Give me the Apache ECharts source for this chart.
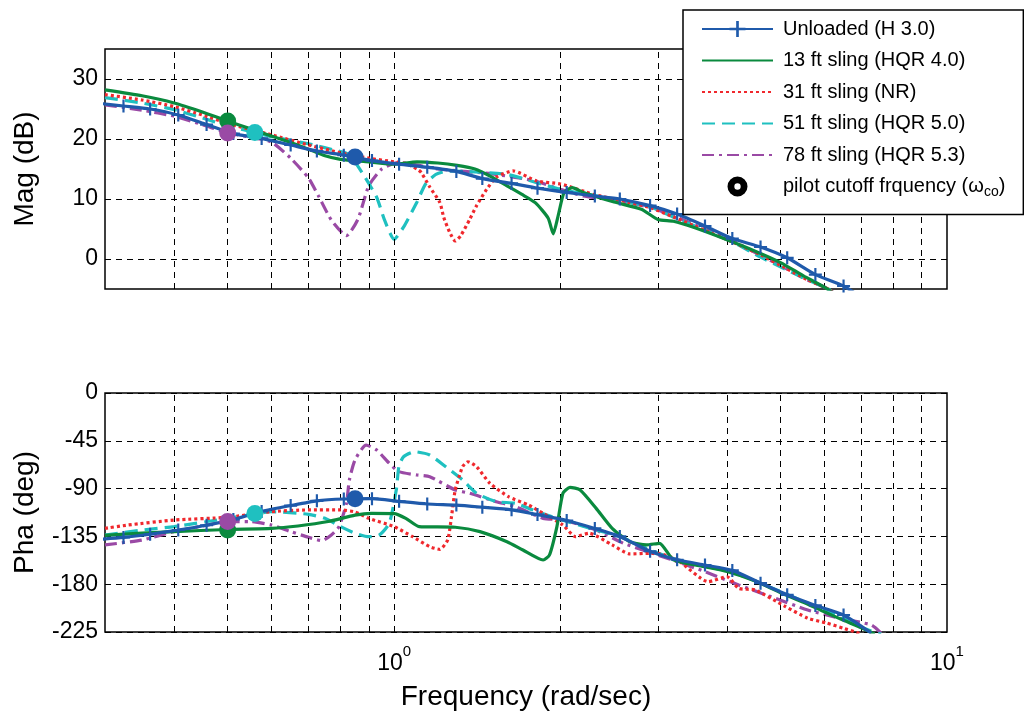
<!DOCTYPE html>
<html>
<head>
<meta charset="utf-8">
<script src="https://cdn.jsdelivr.net/npm/echarts@6/dist/echarts.min.js"></script>
<style>
html,body{margin:0;padding:0;background:#fff;}
#chart{width:1024px;height:718px;}
</style>
</head>
<body>
<div id="chart"></div>
<script>
// ---------- data ----------
const names = ['Unloaded (H 3.0)', '13 ft sling (HQR 4.0)', '31 ft sling (NR)', '51 ft sling (HQR 5.0)', '78 ft sling (HQR 5.3)'];
const cutName = 'pilot cutoff frquency (\u03c9co)';

const xGrid = [0.4, 0.5, 0.6, 0.7, 0.8, 0.9, 1, 2, 3, 4, 5, 6, 7, 8, 9];
const magGridY = [0, 10, 20, 30];

// Unloaded (H 3.0)
const blueF   = [0.289, 0.324, 0.362, 0.407, 0.458, 0.512, 0.576, 0.650, 0.725, 0.811, 0.912, 1.021, 1.148, 1.296, 1.444, 1.631, 1.817, 2.052, 2.307, 2.560, 2.904, 3.25, 3.65, 4.09, 4.60, 5.14, 5.78, 6.50, 7.29];
const blueMag = [26.0, 25.5, 25.0, 24.0, 22.4, 20.9, 20.1, 19.0, 18.0, 17.3, 16.4, 15.8, 15.3, 14.6, 13.4, 12.6, 11.8, 11.1, 10.5, 10.0, 8.9, 7.5, 5.5, 3.4, 2.0, 0.2, -2.6, -4.5, -7.5];
const bluePha = [-138, -136, -133, -129, -124.5, -119, -111.5, -106, -101.5, -99.8, -99.5, -102, -104.5, -105.5, -107.5, -110, -114.5, -120, -127.5, -135, -149, -157, -162, -167, -179, -190, -200, -209, -226];

// 13 ft sling (HQR 4.0)
const greenMagF = [0.3, 0.35, 0.4, 0.45, 0.5, 0.55, 0.6, 0.65, 0.7, 0.75, 0.8, 0.9, 1.0, 1.1, 1.2, 1.3, 1.4, 1.5, 1.6, 1.7, 1.8, 1.9, 1.94, 1.98, 2.03, 2.1, 2.2, 2.5, 2.8, 3.0, 3.2, 3.5, 4.0, 4.5, 5.0, 5.5, 6.0, 6.3];
const greenMag  = [28.2, 27.2, 26.0, 24.5, 23.0, 21.7, 20.5, 19.4, 18.3, 17.2, 16.6, 16.2, 15.8, 16.2, 16.0, 15.6, 15.0, 13.7, 12.2, 10.8, 9.4, 6.8, 4.2, 7.2, 11.1, 11.9, 11.1, 9.5, 8.3, 6.6, 6.3, 5.2, 3.2, 1.3, -0.6, -2.8, -4.7, -6.0];
const greenPhaF = [0.3, 0.35, 0.4, 0.5, 0.6, 0.67, 0.76, 0.85, 0.91, 1.0, 1.05, 1.11, 1.29, 1.43, 1.6, 1.71, 1.86, 1.91, 1.97, 2.02, 2.08, 2.17, 2.32, 2.48, 2.67, 2.86, 3.02, 3.2, 3.6, 4.0, 4.5, 5.0, 5.5, 6.0, 6.5, 7.0, 7.4];
const greenPha  = [-134, -132, -130.5, -128.5, -127.5, -125.2, -121, -115, -113.3, -113.5, -118, -125.8, -126.4, -130.5, -140, -147.8, -157.2, -152.5, -125.8, -94.4, -88.8, -91.3, -108.6, -127.4, -140, -143, -141.5, -157, -163, -168, -177, -188, -197, -206, -214, -221, -227];

// 31 ft sling (NR)
const redMagF = [0.3, 0.35, 0.4, 0.45, 0.5, 0.6, 0.7, 0.8, 0.9, 1.0, 1.05, 1.1, 1.12, 1.16, 1.21, 1.23, 1.26, 1.29, 1.32, 1.37, 1.41, 1.47, 1.53, 1.64, 1.81, 2.0, 2.29, 2.58, 2.9, 3.2, 3.6, 4.1, 4.6, 5.1, 5.6, 6.1, 6.4];
const redMag  = [27.4, 26.5, 25.4, 24.0, 22.6, 20.7, 19.0, 17.7, 16.8, 16.2, 15.9, 15.0, 14.4, 12.0, 9.4, 6.9, 4.5, 3.0, 3.9, 6.6, 8.9, 11.6, 13.6, 14.7, 13.0, 12.5, 10.8, 9.7, 8.6, 7.0, 5.0, 2.8, 0.7, -1.5, -3.5, -5.0, -6.5];
const redPhaF = [0.3, 0.33, 0.4, 0.5, 0.6, 0.7, 0.8, 0.85, 0.9, 1.0, 1.08, 1.16, 1.21, 1.25, 1.27, 1.29, 1.33, 1.36, 1.41, 1.49, 1.61, 1.75, 1.86, 2.02, 2.13, 2.25, 2.48, 2.67, 2.9, 3.0, 3.25, 3.7, 4.0, 4.2, 4.5, 5.1, 5.6, 6.05, 6.5, 6.8, 7.0];
const redPha  = [-127.4, -124.3, -119.6, -117, -111.7, -110.1, -110.1, -112, -118, -125.8, -135.3, -144.7, -147.2, -138.4, -116.4, -91.3, -69.4, -64.7, -69.4, -85, -97.6, -105.4, -113.3, -124.3, -135.3, -132, -143, -151.5, -150.9, -151, -157, -177.6, -173, -183.9, -185.5, -201, -212, -216.5, -221.5, -224.7, -227];

// 51 ft sling (HQR 5.0)
const cyanMagF = [0.3, 0.35, 0.4, 0.45, 0.5, 0.56, 0.6, 0.7, 0.8, 0.83, 0.875, 0.93, 0.96, 1.0, 1.04, 1.1, 1.14, 1.19, 1.26, 1.4, 1.6, 1.8, 2.0, 2.3, 2.6, 2.9, 3.2, 3.6, 4.1, 4.6, 5.1, 5.6, 6.1, 6.4];
const cyanMag  = [26.9, 26.0, 24.9, 23.5, 22.2, 21.1, 20.4, 19.2, 17.9, 17.4, 14.4, 10.3, 6.6, 3.3, 5.3, 9.5, 12.5, 14.1, 14.7, 14.5, 14.1, 12.8, 11.6, 10.6, 9.6, 8.7, 7.0, 5.0, 2.8, 0.3, -1.7, -3.5, -5.0, -6.5];
const cyanPhaF = [0.3, 0.35, 0.4, 0.5, 0.56, 0.6, 0.7, 0.75, 0.8, 0.85, 0.9, 0.94, 0.98, 1.01, 1.02, 1.04, 1.09, 1.16, 1.24, 1.33, 1.41, 1.53, 1.66, 1.78, 1.97, 2.32, 2.56, 2.9, 3.25, 3.65, 4.1, 4.6, 5.1, 5.6, 6.1, 6.6, 7.1, 7.6];
const cyanPha  = [-133.7, -129, -125.8, -118, -113.9, -111.7, -114.2, -118, -125.8, -132, -135.3, -133.7, -122.7, -90, -69.4, -60, -55.3, -58.4, -69.4, -81.9, -94.4, -102.3, -103.8, -110, -118, -129, -135, -147.8, -157, -163, -169, -179, -189, -198, -206, -214, -222, -227];

// 78 ft sling (HQR 5.3)
const purpleMagF = [0.3, 0.35, 0.4, 0.45, 0.5, 0.55, 0.6, 0.65, 0.7, 0.73, 0.77, 0.82, 0.86, 0.9, 0.95, 1.02, 1.2, 1.5, 1.8, 2.0, 2.2, 2.5, 2.9, 3.2, 3.6, 4.1, 4.6, 5.1, 5.6, 6.1, 6.4];
const purpleMag  = [25.7, 24.8, 23.8, 22.4, 21.0, 20.3, 19.5, 16.8, 13.5, 10.5, 6.5, 3.9, 6.6, 12.2, 15.0, 16.1, 15.0, 14.2, 13.0, 11.6, 10.5, 9.8, 8.6, 7.2, 5.2, 3.0, 0.6, -1.5, -3.5, -5.0, -6.5];
const purplePhaF = [0.3, 0.35, 0.4, 0.45, 0.5, 0.55, 0.6, 0.65, 0.7, 0.74, 0.77, 0.795, 0.82, 0.83, 0.85, 0.89, 0.93, 0.98, 1.02, 1.1, 1.16, 1.29, 1.37, 1.53, 1.66, 1.86, 2.02, 2.32, 2.6, 2.9, 3.25, 3.65, 4.2, 4.8, 5.6, 6.4, 7.3, 7.6];
const purplePha  = [-143, -138.4, -130.5, -125.2, -121, -121, -124.3, -130.5, -135.8, -139, -133.7, -125.8, -103.8, -81.9, -63, -49, -53.7, -66.2, -74, -77.2, -78.8, -91.3, -94.4, -102.3, -107, -118, -119.6, -129, -141.5, -150, -158.8, -168.2, -180.7, -191.7, -204.3, -212, -218.4, -226];

// pilot cutoff frequencies (Unloaded, 13 ft, 51 ft, 78 ft)
const cutSeriesIdx = [0, 1, 3, 4];
const cutF   = [0.85, 0.5, 0.56, 0.5];
const cutMag = [17.0, 23.0, 21.1, 21.0];
const cutPha = [-99.5, -129, -113.5, -121];

// ---------- style ----------
const FONT = '"Liberation Sans", Arial, Helvetica, sans-serif';
const colors = ['#1f5aab', '#0a8a3e', '#f0282d', '#1fc0c0', '#9a4aa5'];
const dashes = ['solid', 'solid', [3, 3], [13, 7], [12, 5, 3, 5]];
const PLUS = 'path://M5,0H7V5H12V7H7V12H5V7H0V5H5Z';
const RING = 'path://M11,0A11,11,0,1,1,10.99,0ZM11,7.5A3.5,3.5,0,1,0,11.01,7.5Z';

function zip(f, v) { return f.map((x, i) => [x, v[i]]); }

const magData = [zip(blueF, blueMag), zip(greenMagF, greenMag), zip(redMagF, redMag), zip(cyanMagF, cyanMag), zip(purpleMagF, purpleMag)];
const phaData = [zip(blueF, bluePha), zip(greenPhaF, greenPha), zip(redPhaF, redPha), zip(cyanPhaF, cyanPha), zip(purplePhaF, purplePha)];

const gridLineStyle = { color: '#000', type: [6, 5], width: 1 };

function gridSeries(gi, withY) {
  const d = xGrid.map(v => ({ xAxis: v }));
  if (withY) magGridY.forEach(v => d.push({ yAxis: v }));
  return {
    type: 'line', xAxisIndex: gi, yAxisIndex: gi, data: [], z: 1, silent: true,
    markLine: { silent: true, symbol: ['none', 'none'], label: { show: false }, lineStyle: gridLineStyle, animation: false, data: d }
  };
}

const series = [gridSeries(0, true), gridSeries(1, false)];
[magData, phaData].forEach((set, gi) => {
  set.forEach((data, k) => {
    series.push({
      name: names[k], type: 'line', xAxisIndex: gi, yAxisIndex: gi, data: data,
      smooth: 0.2, clip: true, z: 3 + (k === 0 ? 5 : 4 - k),
      symbol: k === 0 ? PLUS : 'none', symbolSize: 13, showSymbol: k === 0,
      itemStyle: { color: colors[k] },
      lineStyle: { color: colors[k], width: 3.2, type: dashes[k] }
    });
  });
  const vals = gi === 0 ? cutMag : cutPha;
  series.push({
    name: cutName, type: 'scatter', xAxisIndex: gi, yAxisIndex: gi, z: 20,
    symbol: 'circle', symbolSize: 17, itemStyle: { color: '#000' },
    data: cutF.map((f, i) => ({ value: [f, vals[i]], itemStyle: { color: colors[cutSeriesIdx[i]], opacity: 1 } }))
  });
});

function logLabel(v) {
  const l = Math.log10(v);
  if (Math.abs(l - Math.round(l)) < 1e-6) return '{b|10}{s|' + Math.round(l) + '}';
  return '';
}

const axisText = { color: '#000', fontFamily: FONT, fontSize: 23 };

const legendData = names.map((n, k) => (k === 0 ? { name: n } : { name: n, itemStyle: { opacity: 0 } }))
  .concat([{ name: cutName, icon: RING, itemStyle: { color: '#000', borderWidth: 0, opacity: 1 } }]);

const option = {
  animation: false,
  backgroundColor: '#fff',
  textStyle: { fontFamily: FONT },
  grid: [
    { left: 105, right: 77, top: 49, height: 240, show: true, borderColor: '#000', borderWidth: 1.5, backgroundColor: 'transparent' },
    { left: 105, right: 77, top: 393, height: 239, show: true, borderColor: '#000', borderWidth: 1.5, backgroundColor: 'transparent' }
  ],
  xAxis: [
    { type: 'log', logBase: 10, gridIndex: 0, min: 0.3, max: 10, axisLine: { show: false }, axisTick: { show: false }, axisLabel: { show: false }, splitLine: { show: false } },
    { type: 'log', logBase: 10, gridIndex: 1, min: 0.3, max: 10, axisLine: { show: false }, axisTick: { show: false }, splitLine: { show: false },
      axisLabel: { formatter: logLabel, showMinLabel: true, showMaxLabel: true, margin: 12,
        rich: { b: { fontSize: 23, fontFamily: FONT, color: '#000', verticalAlign: 'bottom' }, s: { fontSize: 15, fontFamily: FONT, color: '#000', verticalAlign: 'bottom', padding: [0, 0, 16, 0] } } },
      name: 'Frequency (rad/sec)', nameLocation: 'middle', nameGap: 51,
      nameTextStyle: { fontSize: 28, fontFamily: FONT, color: '#000' } }
  ],
  yAxis: [
    { type: 'value', gridIndex: 0, min: -5, max: 35, interval: 5, axisLine: { show: false }, axisTick: { show: false }, splitLine: { show: false },
      axisLabel: Object.assign({ margin: 7, formatter: v => (v % 10 === 0 ? String(v) : '') }, axisText),
      name: 'Mag (dB)', nameLocation: 'middle', nameGap: 66, nameTextStyle: { fontSize: 28, fontFamily: FONT, color: '#000' } },
    { type: 'value', gridIndex: 1, min: -225, max: 0, interval: 45, axisLine: { show: false }, axisTick: { show: false },
      splitLine: { show: true, lineStyle: gridLineStyle },
      axisLabel: Object.assign({ margin: 7 }, axisText),
      name: 'Pha (deg)', nameLocation: 'middle', nameGap: 66, nameTextStyle: { fontSize: 28, fontFamily: FONT, color: '#000' } }
  ],
  legend: {
    left: 683, top: 10, orient: 'vertical', z: 30,
    backgroundColor: '#fff', borderColor: '#000', borderWidth: 1.5,
    padding: [9, 18, 15, 18], itemGap: 11.5, itemWidth: 71, itemHeight: 20,
    selectedMode: false,
    formatter: name => (name === cutName ? 'pilot cutoff frquency (\u03c9{sub|co})' : name),
    textStyle: { fontSize: 20, fontFamily: FONT, color: '#000', padding: [0, 0, 0, 5],
      rich: { sub: { fontSize: 14, fontFamily: FONT, color: '#000', padding: [12, 0, 0, 0] } } },
    data: legendData
  },
  series: series
};

const chart = echarts.init(document.getElementById('chart'), null, { renderer: 'canvas' });
chart.setOption(option);
</script>
</body>
</html>
